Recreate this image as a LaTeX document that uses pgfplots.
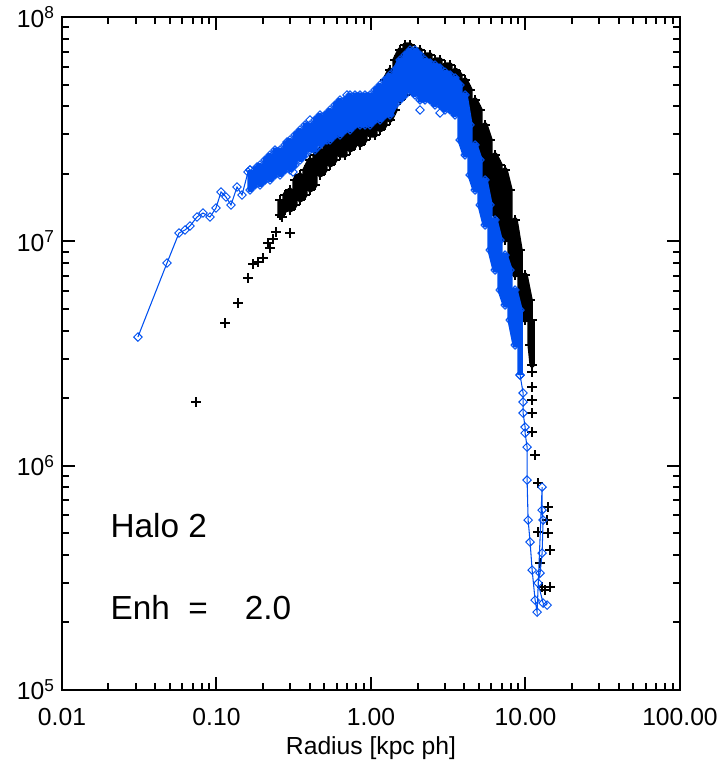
\documentclass[border=0pt]{standalone}
\usepackage{fontspec}
\setmainfont{Liberation Sans}
\usepackage{pgfplots}
\pgfplotsset{compat=1.18}
\definecolor{idlblue}{RGB}{0,80,240}
\newcommand{\tlfont}{\fontsize{18.5}{22}\selectfont}
\newcommand{\anfont}{\fontsize{25}{30}\selectfont}
\begin{document}
\begin{tikzpicture}
\begin{axis}[
  scale only axis,
  width=463.5pt, height=504.75pt,
  xmode=log, ymode=log,
  xmin=0.01, xmax=100, ymin=1e5, ymax=1e8,
  axis line style={line width=1.5pt},
  every tick/.style={line width=1.5pt, black},
  tick align=inside,
  major tick length=10pt, minor tick length=5pt,
  xtick={0.01,0.1,1,10,100},
  xticklabels={0.01,0.10,1.00,10.00,100.00},
  minor xtick={0.02,0.03,0.04,0.05,0.06,0.07,0.08,0.09,0.2,0.3,0.4,0.5,0.6,0.7,0.8,0.9,2,3,4,5,6,7,8,9,20,30,40,50,60,70,80,90},
  ytick={1e5,1e6,1e7,1e8},
  yticklabels={10\textsuperscript{5},10\textsuperscript{6},10\textsuperscript{7},10\textsuperscript{8}},
  minor ytick={2e5,3e5,4e5,5e5,6e5,7e5,8e5,9e5,2e6,3e6,4e6,5e6,6e6,7e6,8e6,9e6,2e7,3e7,4e7,5e7,6e7,7e7,8e7,9e7},
  xticklabel style={font=\tlfont, anchor=center, yshift=-20pt},
  yticklabel style={font=\tlfont, anchor=east, xshift=-2pt},
  xlabel={Radius [kpc ph]},
  xlabel style={font=\tlfont, at={(axis description cs:0.5,0)}, anchor=center, yshift=-43.5pt},
  clip marker paths=true,
]
% black: dense band
\addplot[black, line width=4pt, line join=round, mark=+, mark size=3.5pt, mark options={line width=2pt}] coordinates {
(0.2578,1.528e7) (0.2578,1.310e7)
(0.2777,1.379e7) (0.2777,1.609e7)
(0.2992,1.693e7) (0.2992,1.379e7)
(0.3224,1.452e7) (0.3224,1.877e7)
(0.3473,1.976e7) (0.3473,1.528e7)
(0.3742,1.609e7) (0.3742,2.080e7)
(0.4032,2.305e7) (0.4032,1.693e7)
(0.4343,1.782e7) (0.4343,2.426e7)
(0.4680,2.553e7) (0.4680,1.976e7)
(0.5042,2.080e7) (0.5042,2.688e7)
(0.5432,2.830e7) (0.5432,2.189e7)
(0.5852,2.305e7) (0.5852,2.979e7)
(0.6305,2.979e7) (0.6305,2.426e7)
(0.6793,2.426e7) (0.6793,3.136e7)
(0.7319,3.301e7) (0.7319,2.553e7)
(0.7885,2.688e7) (0.7885,3.301e7)
(0.8495,3.475e7) (0.8495,2.688e7)
(0.9153,2.830e7) (0.9153,3.658e7)
(0.9861,3.850e7) (0.9861,2.979e7)
(1.0624,2.979e7) (1.0624,4.266e7)
(1.1446,4.727e7) (1.1446,3.136e7)
(1.2332,3.301e7) (1.2332,5.238e7)
(1.3286,5.804e7) (1.3286,3.475e7)
(1.4314,3.850e7) (1.4314,6.432e7)
(1.5422,7.127e7) (1.5422,4.266e7)
(1.6615,4.491e7) (1.6615,7.502e7)
(1.7901,7.502e7) (1.7901,4.727e7)
(1.9286,4.727e7) (1.9286,7.127e7)
(2.0778,7.127e7) (2.0778,4.727e7)
(2.2386,4.727e7) (2.2386,6.771e7)
(2.4118,6.771e7) (2.4118,4.727e7)
(2.5984,4.491e7) (2.5984,6.432e7)
(2.7995,6.432e7) (2.7995,4.491e7)
(3.016,4.491e7) (3.016,6.109e7)
(3.250,6.109e7) (3.250,4.266e7)
(3.501,4.266e7) (3.501,5.804e7)
(3.772,5.514e7) (3.772,4.053e7)
(4.064,3.850e7) (4.064,5.238e7)
(4.378,4.727e7) (4.378,3.301e7)
(4.717,2.688e7) (4.717,4.266e7)
(5.082,3.850e7) (5.082,2.305e7)
(5.475,1.877e7) (5.475,3.301e7)
(5.899,2.830e7) (5.899,1.528e7)
(6.355,1.310e7) (6.355,2.426e7)
(6.847,2.189e7) (6.847,1.123e7)
(7.377,1.013e7) (7.377,2.080e7)
(7.948,1.693e7) (7.948,8.688e6)
(8.563,7.075e6) (8.563,1.245e7)
(9.225,9.146e6) (9.225,5.475e6)
(9.939,4.458e6) (9.939,7.075e6)
(10.71,5.475e6) (10.71,3.449e6)
(11.04,2.809e6) (11.04,4.458e6)
};
% black: sparse points
\addplot[black, only marks, mark=+, mark size=3.5pt, mark options={line width=2pt}] coordinates {
(0.07367,1.921e6) (0.1135,4.323e6) (0.1378,5.308e6) (0.1600,6.863e6) (0.1724,7.921e6)
(0.1857,8.085e6) (0.2000,8.425e6) (0.2156,9.827e6) (0.2221,9.336e6) (0.2323,1.023e7)
(0.2429,1.100e7) (0.2656,1.283e7) (0.2861,1.422e7) (0.2992,1.089e7)
(11.04,2.615e6) (11.04,2.241e6) (11.04,1.961e6) (11.04,1.716e6) (11.04,1.412e6)
(11.54,1.115e6) (12.06,8.366e5) (14.01,6.538e5) (13.80,5.722e5) (14.01,5.007e5)
(14.43,4.205e5) (12.06,5.059e5) (12.43,3.680e5) (12.81,2.876e5) (14.43,2.876e5) (13.39,2.789e5)
};
% blue: inner part
\addplot[idlblue, line width=0.8pt, mark=square, mark size=2.25pt, mark options={rotate=45, line width=0.7pt, fill=white}] coordinates {
(0.0310,3.745e6) (0.04782,8.002e6) (0.05718,1.089e7) (0.06254,1.123e7) (0.06737,1.170e7)
(0.07478,1.283e7) (0.08177,1.337e7) (0.09077,1.283e7) (0.09926,1.408e7) (0.1070,1.659e7)
(0.1152,1.576e7) (0.1241,1.452e7) (0.1358,1.746e7) (0.1463,1.609e7) (0.1600,2.038e7)
(0.1648,2.080e7)
};
% blue: dense band
\addplot[idlblue, line width=4pt, line join=round, mark=square, mark size=2.25pt, mark options={rotate=45, line width=0.7pt}] coordinates {
(0.1648,2.080e7) (0.1648,1.693e7)
(0.1776,1.782e7) (0.1776,2.080e7)
(0.1913,2.189e7) (0.1913,1.782e7)
(0.2061,1.877e7) (0.2061,2.305e7)
(0.2221,2.426e7) (0.2221,1.877e7)
(0.2393,1.976e7) (0.2393,2.553e7)
(0.2578,2.553e7) (0.2578,1.976e7)
(0.2777,2.080e7) (0.2777,2.688e7)
(0.2992,2.830e7) (0.2992,2.080e7)
(0.3224,2.189e7) (0.3224,2.979e7)
(0.3473,3.136e7) (0.3473,2.305e7)
(0.3742,2.426e7) (0.3742,3.301e7)
(0.4032,3.301e7) (0.4032,2.553e7)
(0.4343,2.553e7) (0.4343,3.475e7)
(0.4680,3.658e7) (0.4680,2.688e7)
(0.5042,2.830e7) (0.5042,3.658e7)
(0.5432,3.850e7) (0.5432,2.830e7)
(0.5852,2.979e7) (0.5852,4.053e7)
(0.6305,4.266e7) (0.6305,2.979e7)
(0.6793,3.136e7) (0.6793,4.266e7)
(0.7319,4.491e7) (0.7319,3.136e7)
(0.7885,3.301e7) (0.7885,4.491e7)
(0.8495,4.491e7) (0.8495,3.301e7)
(0.9153,3.301e7) (0.9153,4.491e7)
(0.9861,4.491e7) (0.9861,3.301e7)
(1.0624,3.475e7) (1.0624,4.727e7)
(1.1446,4.976e7) (1.1446,3.475e7)
(1.2332,3.658e7) (1.2332,5.238e7)
(1.3286,5.514e7) (1.3286,3.658e7)
(1.4314,4.053e7) (1.4314,5.804e7)
(1.5422,6.432e7) (1.5422,4.266e7)
(1.6615,4.491e7) (1.6615,6.771e7)
(1.7901,7.127e7) (1.7901,4.727e7)
(1.9286,4.491e7) (1.9286,7.127e7)
(2.0778,6.771e7) (2.0778,4.266e7)
(2.2386,4.266e7) (2.2386,6.432e7)
(2.4118,6.24e7) (2.4118,4.266e7)
(2.5984,4.053e7) (2.5984,6.109e7)
(2.7995,5.92e7) (2.7995,4.053e7)
(3.016,3.850e7) (3.016,5.68e7)
(3.250,5.514e7) (3.250,3.850e7)
(3.501,3.658e7) (3.501,5.35e7)
(3.772,4.976e7) (3.772,2.830e7)
(4.064,2.426e7) (4.064,4.491e7)
(4.378,3.301e7) (4.378,1.976e7)
(4.717,1.693e7) (4.717,2.688e7)
(5.082,2.305e7) (5.082,1.452e7)
(5.475,1.182e7) (5.475,1.877e7)
(5.899,1.452e7) (5.899,9.146e6)
(6.355,7.447e6) (6.355,1.245e7)
(6.847,1.013e7) (6.847,6.067e6)
(7.377,5.200e6) (7.377,8.688e6)
(7.948,7.447e6) (7.948,4.458e6)
(8.563,3.449e6) (8.563,6.067e6)
(9.225,4.940e6) (9.225,2.535e6)
};
% blue: outer tail
\addplot[idlblue, line width=0.8pt, mark=square, mark size=2.25pt, mark options={rotate=45, line width=0.7pt, fill=white}] coordinates {
(9.225,2.535e6) (9.647,2.108e6) (9.647,1.921e6) (9.647,1.716e6) (9.939,1.486e6)
(9.939,1.397e6) (10.24,1.210e6) (10.24,8.626e5) (10.40,5.722e5) (10.71,4.565e5)
(11.04,3.425e5) (11.54,2.517e5) (11.89,2.225e5) (12.81,8.028e5) (12.81,6.340e5)
(13.00,5.722e5) (12.81,4.078e5) (12.43,3.321e5) (12.06,2.997e5) (13.00,2.441e5) (13.80,2.391e5)
};
% blue: scattered edge points
\addplot[idlblue, only marks, mark=square, mark size=2.25pt, mark options={rotate=45, line width=0.7pt, fill=white}] coordinates {
(0.1830,2.144e7) (0.2061,1.877e7) (0.2323,2.426e7) (0.2861,2.772e7) (0.3129,2.038e7)
(0.4032,3.475e7) (0.4475,2.633e7) (0.5195,2.830e7) (0.6999,4.491e7)
(2.078,3.850e7) (2.80,3.734e7) (3.501,3.850e7)
};
\node[anchor=west, font=\anfont] at (axis description cs:0.071,0.245) {Halo 2};
\node[anchor=west, font=\anfont] at (axis description cs:0.071,0.123) {Enh\ \ =\ \ \ \ 2.0};
\end{axis}
\pgfresetboundingbox
\path[use as bounding box] ([xshift=-46.5pt,yshift=-59.25pt]current axis.south west) rectangle ([xshift=32.25pt,yshift=12.75pt]current axis.north east);
\end{tikzpicture}
\end{document}
